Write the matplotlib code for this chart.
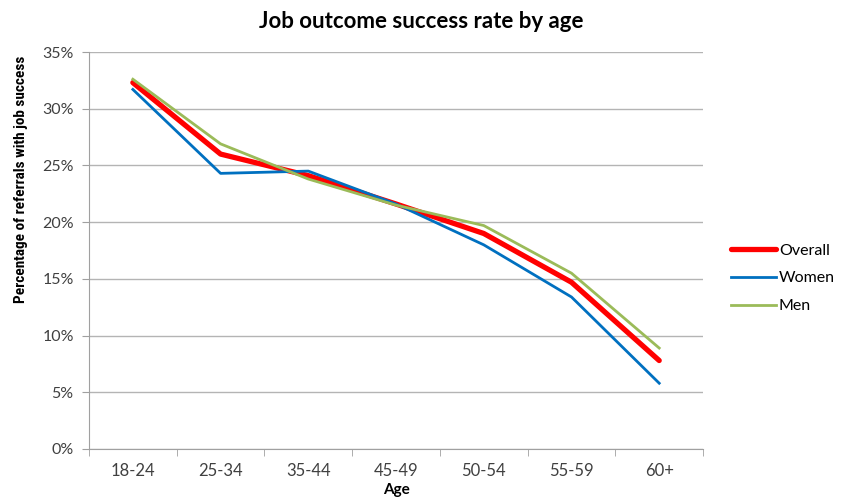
import matplotlib
matplotlib.use("Agg")
import matplotlib.pyplot as plt
from matplotlib.ticker import FuncFormatter, MultipleLocator, FixedLocator
from matplotlib import font_manager

categories = ["18-24", "25-34", "35-44", "45-49", "50-54", "55-59", "60+"]
overall = [32.3, 26.0, 24.1, 21.6, 19.0, 14.7, 7.8]
women = [31.7, 24.3, 24.5, 21.6, 18.0, 13.4, 5.8]
men = [32.6, 26.9, 23.8, 21.5, 19.7, 15.5, 8.9]

plt.rcParams['font.family'] = ['Lato', 'DejaVu Sans']

names = {f.name for f in font_manager.fontManager.ttflist}
narrow = None
for cand in ["Liberation Sans Narrow", "DejaVu Sans Condensed", "Roboto Condensed", "Open Sans Condensed"]:
    if cand in names:
        narrow = cand
        break

fig = plt.figure(figsize=(8.42, 5.0), dpi=100)
ax = fig.add_axes([0.1057, 0.102, 0.7293, 0.794])

x = list(range(len(categories)))
ax.plot(x, overall, color="#FF0000", lw=3.8, label="Overall", solid_capstyle="round", zorder=3)
ax.plot(x, women, color="#0070C0", lw=2.0, label="Women", zorder=4)
ax.plot(x, men, color="#9BBB59", lw=2.0, label="Men", zorder=5)

ax.set_xlim(-0.5, len(categories) - 0.5)
ax.set_ylim(0, 35)
ax.yaxis.set_major_locator(MultipleLocator(5))
ax.yaxis.set_major_formatter(FuncFormatter(lambda v, p: f"{v:.0f}%"))
ax.set_xticks(x)
ax.set_xticklabels(categories)
ax.xaxis.set_minor_locator(FixedLocator([i - 0.5 for i in range(len(categories) + 1)]))
ax.tick_params(axis="x", which="major", length=0, pad=10, labelsize=12, colors="#404040")
ax.tick_params(axis="x", which="minor", length=5, color="#a0a0a0", direction="out")
ax.tick_params(axis="y", which="major", length=5, color="#a0a0a0", labelsize=11.5, labelcolor="#404040", pad=6)

ax.grid(axis="y", color="#b4b4b4", lw=1.0)
ax.set_axisbelow(True)
for s in ["top", "right"]:
    ax.spines[s].set_visible(False)
ax.spines["left"].set_color("#a0a0a0")
ax.spines["bottom"].set_color("#a0a0a0")

ax.set_xlabel("Age", fontsize=11, fontweight="bold", labelpad=3)
if narrow:
    ax.set_ylabel("Percentage of referrals with job success", fontsize=11, fontweight="bold",
                  family=[narrow, "DejaVu Sans"])
else:
    ax.set_ylabel("Percentage of referrals with job success", fontsize=9, fontweight="bold")
ax.yaxis.set_label_coords(-0.1, 0.68)
fig.suptitle("Job outcome success rate by age", y=0.978, fontsize=16, fontweight="bold")

leg = ax.legend(loc="center left", bbox_to_anchor=(1.022, 0.43), frameon=False,
                fontsize=11.5, handlelength=2.8, handletextpad=0.2, labelspacing=0.85)

fig.savefig("out.png", dpi=100)
